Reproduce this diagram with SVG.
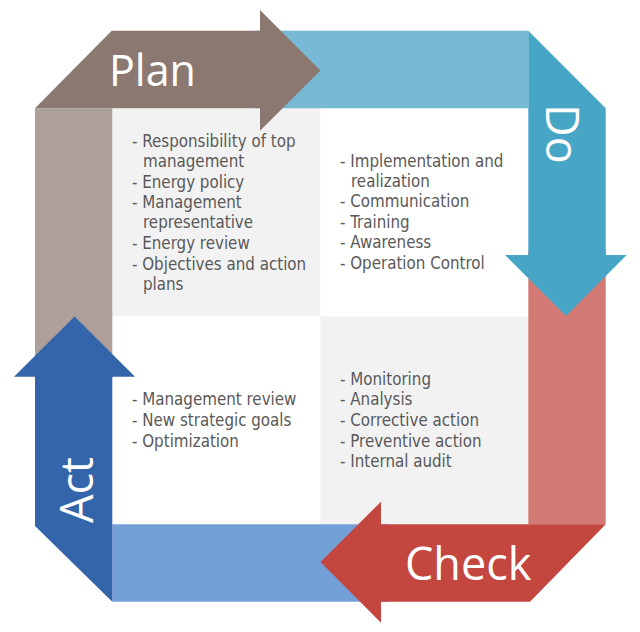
<svg xmlns="http://www.w3.org/2000/svg" width="640" height="632" viewBox="0 0 640 632">
<style>
.item{font-family:"DejaVu Sans Condensed","DejaVu Sans",sans-serif;font-stretch:condensed;font-size:16.8px;fill:#595959}
.big{font-family:"Open Sans","Noto Sans",sans-serif;font-size:45px;fill:#ffffff}
</style>
<rect width="640" height="632" fill="#ffffff"/>
<g id="quadrants">
<rect x="112.3" y="108.3" width="208.2" height="208.2" fill="#f2f2f2"/>
<rect x="320.5" y="108.3" width="207.8" height="208.2" fill="#ffffff"/>
<rect x="112.3" y="316.5" width="208.2" height="207.8" fill="#ffffff"/>
<rect x="320.5" y="316.5" width="207.8" height="207.8" fill="#f2f2f2"/>
</g>
<g id="connectors">
<rect x="35" y="108.3" width="77.3" height="270" fill="#ada09b"/>
<rect x="255" y="30.7" width="273.3" height="77.6" fill="#78b9d5"/>
<rect x="528.3" y="250" width="77.4" height="274.3" fill="#d47a75"/>
<rect x="112.3" y="524.3" width="275" height="77.4" fill="#729fd6"/>
</g>
<g id="plan">
<polygon points="35,108.3 111.7,30.7 260,30.7 260,10 320.5,70.5 260,130.7 260,108.3" fill="#8b7871"/>
<text class="big" x="109" y="86" style="font-size:43px">Plan</text>
</g>
<g id="do">
<polygon points="528.3,30.7 605.7,108.3 605.7,255 626.7,255 566,316 505,255 528.3,255" fill="#47a5c6"/>
<text class="big" transform="translate(546,104) rotate(90)">Do</text>
</g>
<g id="check">
<polygon points="605.7,524.3 530,601.7 381,601.7 381,622.7 320.5,562 381,501.7 381,524.3" fill="#c3463f"/>
<text class="big" x="405" y="580">Check</text>
</g>
<g id="act">
<polygon points="112.3,601.7 35,526 35,376.7 14,376.7 74.5,316.5 135,376.7 112.3,376.7" fill="#3464aa"/>
<text class="big" transform="translate(93,523) rotate(-90)">Act</text>
</g>
<g id="plan-items" class="item">
<text x="132" y="146.7">- Responsibility of top</text>
<text x="143" y="167.3">management</text>
<text x="132" y="187.7">- Energy policy</text>
<text x="132" y="208.3">- Management</text>
<text x="143" y="228.3">representative</text>
<text x="132" y="249">- Energy review</text>
<text x="132" y="270">- Objectives and action</text>
<text x="143" y="290">plans</text>
</g>
<g id="do-items" class="item">
<text x="340" y="166.7">- Implementation and</text>
<text x="351" y="186.7">realization</text>
<text x="340" y="207.3">- Communication</text>
<text x="340" y="227.7">- Training</text>
<text x="340" y="248.3">- Awareness</text>
<text x="340" y="269.3">- Operation Control</text>
</g>
<g id="act-items" class="item">
<text x="132" y="405">- Management review</text>
<text x="132" y="425.7">- New strategic goals</text>
<text x="132" y="446.7">- Optimization</text>
</g>
<g id="check-items" class="item">
<text x="340" y="385">- Monitoring</text>
<text x="340" y="405">- Analysis</text>
<text x="340" y="425.7">- Corrective action</text>
<text x="340" y="446.7">- Preventive action</text>
<text x="340" y="466.7">- Internal audit</text>
</g>
</svg>
